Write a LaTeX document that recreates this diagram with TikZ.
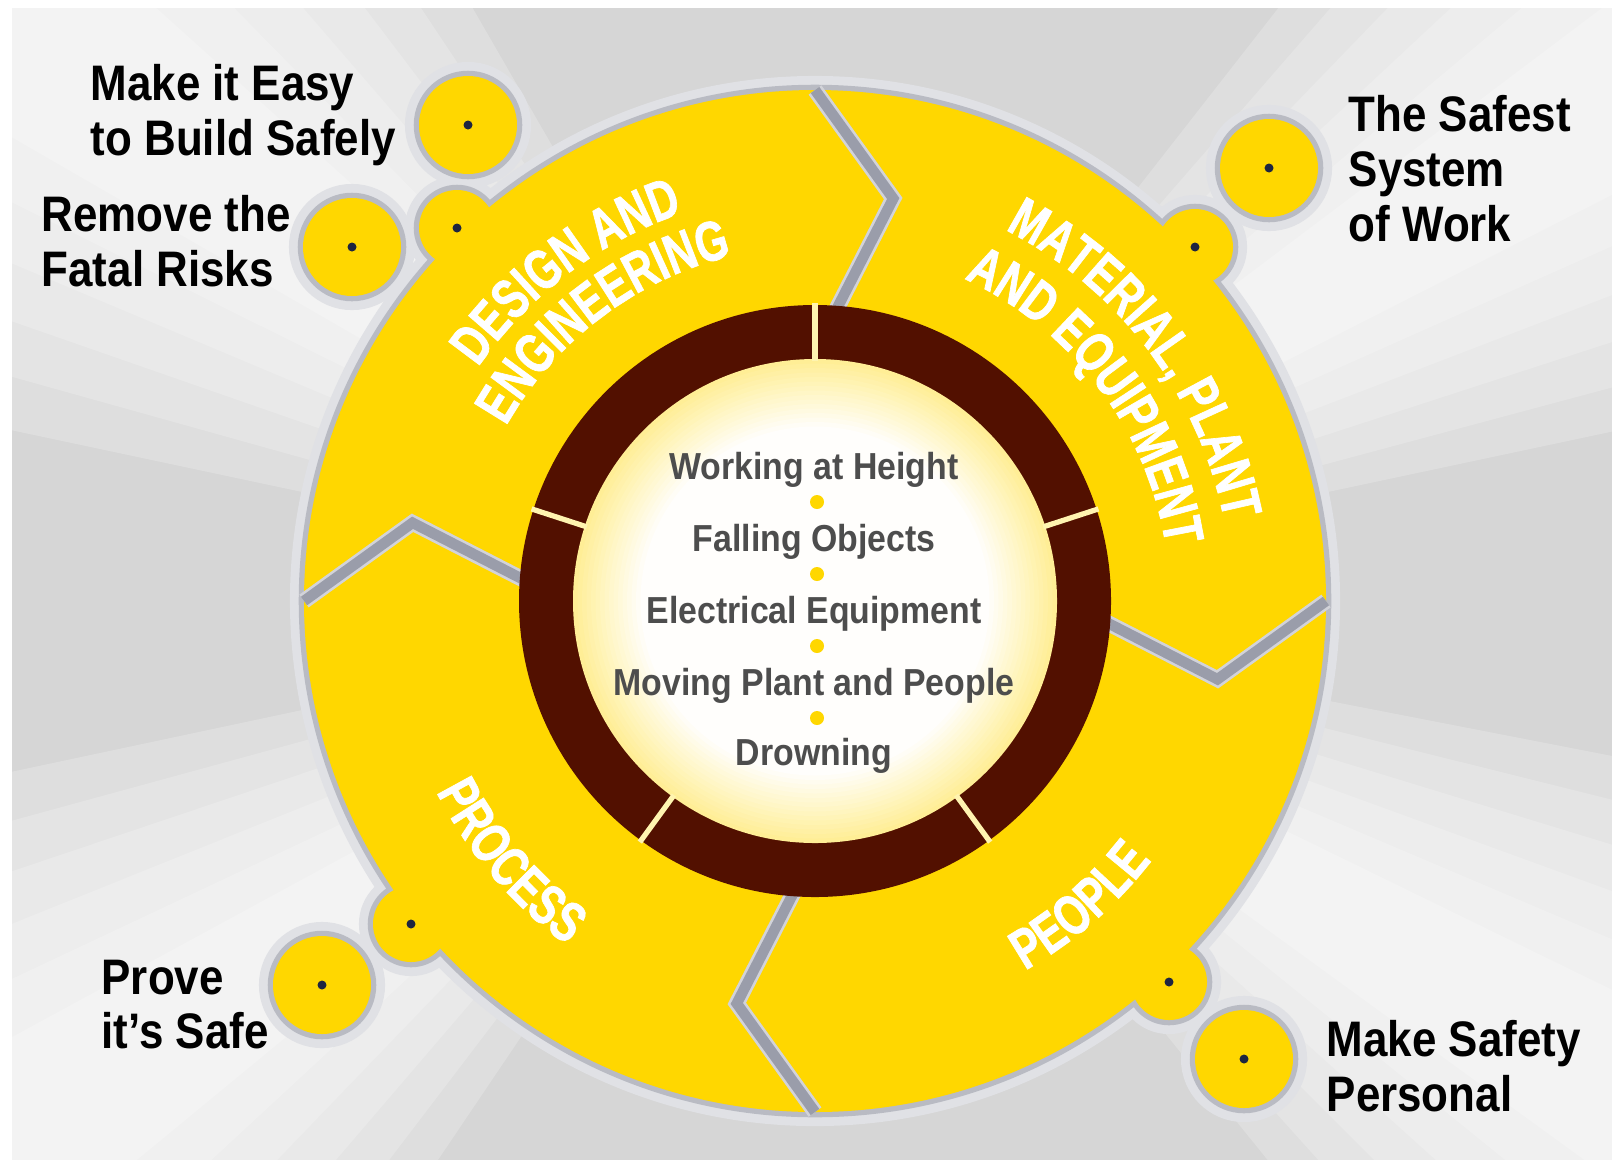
\documentclass[tikz,border=0pt]{standalone}
\usepackage{fontspec}
\usetikzlibrary{calc,decorations.text}

\newfontfamily\tagfont[FakeStretch=0.88]{Liberation Sans}
\newfontfamily\bandfont[FakeStretch=0.74,FakeBold=1.2]{Liberation Sans}
\newfontfamily\riskfont[FakeStretch=0.9]{Liberation Sans}

\definecolor{Sun}{HTML}{FFD700}
\definecolor{Ring}{HTML}{521000}
\definecolor{Tick}{HTML}{FFF4B0}
\definecolor{Glow}{HTML}{FFEE96}
\definecolor{Groove}{HTML}{9A9DAA}
\definecolor{Halo}{HTML}{A7AAB4}
\definecolor{Backdrop}{HTML}{D6D6D6}
\definecolor{Pin}{HTML}{1E2540}
\definecolor{RiskText}{HTML}{4D4D4D}

\begin{document}
\begin{tikzpicture}[
  halo/.style={draw=Halo!35, line width=8pt},
  halo core/.style={draw=Halo!80, line width=3pt},
  groove/.style={draw=Groove, line width=3pt, line join=miter},
  groove edge/.style={draw=Groove!45, line width=4.5pt, line join=miter},
  tag/.style={anchor=north west, inner sep=0pt, align=left, font=\tagfont\bfseries\fontsize{14.2}{15.6}\selectfont},
  risk/.style={anchor=base, inner sep=0pt, text=RiskText, font=\riskfont\bfseries\fontsize{10.7}{12}\selectfont},
  band/.style={decorate, decoration={text along path, text align=center, text={|\bandfont\bfseries\fontsize{16}{17}\selectfont\color{white}|#1}}}
]

 \useasboundingbox (0,0) rectangle (16.12,-11.60);

 %%%%%%%%%% Points pour travailler %%%%%%%%%%

 \coordinate (C) at (8.15,-6.01) ;

 \coordinate (bDE) at (4.57,-2.28) ;
 \coordinate (bMP) at (11.95,-2.47) ;
 \coordinate (bPE) at (11.69,-9.82) ;
 \coordinate (bPR) at (4.11,-9.24) ;

 \coordinate (gEasy) at (4.68,-1.25) ;
 \coordinate (gFatal) at (3.52,-2.47) ;
 \coordinate (gSafest) at (12.69,-1.68) ;
 \coordinate (gPersonal) at (12.44,-10.59) ;
 \coordinate (gProve) at (3.22,-9.85) ;

 %%%%%%%%%% Background %%%%%%%%%%
 \fill [Backdrop] (0.12,-0.08) rectangle (16.12,-11.60) ;
 \begin{scope}
  \clip (0.12,-0.08) rectangle (16.12,-11.60) ;
  \foreach \a/\w in {144/24,32/20,-146/22,-31/20}
   \foreach \k in {1,0.85,0.7,0.55,0.4,0.25}
    \fill [white, opacity=0.2] (C) -- ($(C)+(\a-\k*\w:14)$) -- ($(C)+(\a+\k*\w:14)$) -- cycle ;
 \end{scope}

 %%%%%%%%%% Shadows %%%%%%%%%%
 \draw [halo] (C) circle (5.11) ;
 \foreach \p in {bDE,bMP,bPE,bPR} \draw [halo] (\p) circle (0.38) ;
 \foreach \p in {gEasy,gFatal,gSafest,gPersonal,gProve} \draw [halo] (\p) circle (0.49) ;
 \draw [halo core] (C) circle (5.11) ;
 \foreach \p in {bDE,bMP,bPE,bPR} \draw [halo core] (\p) circle (0.38) ;
 \foreach \p in {gEasy,gFatal,gSafest,gPersonal,gProve} \draw [halo core] (\p) circle (0.49) ;

 %%%%%%%%%% Yellow wheel %%%%%%%%%%
 \fill [Sun] (C) circle (5.11) ;
 \foreach \p in {bDE,bMP,bPE,bPR} \fill [Sun] (\p) circle (0.38) ;
 \foreach \p in {gEasy,gFatal,gSafest,gPersonal,gProve} \fill [Sun] (\p) circle (0.49) ;

 % Grooves
 \foreach \t in {90,0,-90,180} {
  \draw [groove edge] ($(C)+(\t:5.11)$) -- ($(C)+(\t-11:4.10)$) -- ($(C)+(\t-4:2.90)$) ;
  \draw [groove] ($(C)+(\t:5.11)$) -- ($(C)+(\t-11:4.10)$) -- ($(C)+(\t-4:2.90)$) ;
 }

 %%%%%%%%%% Fatal risks ring %%%%%%%%%%
 \fill [Ring] (C) circle (2.96) ;
 \foreach \i [evaluate=\i as \m using 100-6.5*\i] in {0,...,15}
  \fill [Glow!\m!white] (C) circle (2.42-0.045*\i) ;
 \foreach \a in {90,18,-54,-126,162}
  \draw [Tick, line width=1.5pt] ($(C)+(\a:2.40)$) -- ($(C)+(\a:2.98)$) ;

 %%%%%%%%%% Pins %%%%%%%%%%
 \foreach \p in {bDE,bMP,bPE,bPR,gEasy,gFatal,gSafest,gPersonal,gProve}
  \fill [Pin] (\p) circle (0.045) ;

 %%%%%%%%%% Risks %%%%%%%%%%
 \node [risk] (height) at (8.14,-4.79) {Working at Height} ;
 \node [risk] (falling) at (8.14,-5.51) {Falling Objects} ;
 \node [risk] (electric) at (8.14,-6.23) {Electrical Equipment} ;
 \node [risk] (moving) at (8.14,-6.95) {Moving Plant and People} ;
 \node [risk] (drowning) at (8.14,-7.65) {Drowning} ;
 \foreach \y in {-5.02,-5.74,-6.46,-7.18}
  \fill [Sun] (8.17,\y) circle (0.07) ;

 %%%%%%%%%% Band titles %%%%%%%%%%
 \path [band={DESIGN AND}] ($(C)+(162:4.10)$) arc [start angle=162, end angle=92, radius=4.10] ;
 \path [band={ENGINEERING}] ($(C)+(162:3.55)$) arc [start angle=162, end angle=92, radius=3.55] ;
 \path [band={MATERIAL, PLANT}] ($(C)+(72:4.17)$) arc [start angle=72, end angle=2, radius=4.17] ;
 \path [band={AND EQUIPMENT}] ($(C)+(72:3.55)$) arc [start angle=72, end angle=2, radius=3.55] ;
 \path [band={PROCESS}] ($(C)+(-174.5:4.24)$) arc [start angle=-174.5, end angle=-104.5, radius=4.24] ;
 \path [band={PEOPLE}] ($(C)+(-84:4.25)$) arc [start angle=-84, end angle=-14, radius=4.25] ;

 %%%%%%%%%% Principles %%%%%%%%%%
 \node [tag] (easy) at (0.90,-0.64) {Make it Easy\\to Build Safely} ;
 \node [tag] (fatal) at (0.41,-1.95) {Remove the\\Fatal Risks} ;
 \node [tag] (safest) at (13.48,-0.95) {The Safest\\System\\of Work} ;
 \node [tag] (prove) at (1.01,-9.59) {Prove\\it’s Safe} ;
 \node [tag] (personal) at (13.26,-10.20) {Make Safety\\Personal} ;

\end{tikzpicture}
\end{document}
